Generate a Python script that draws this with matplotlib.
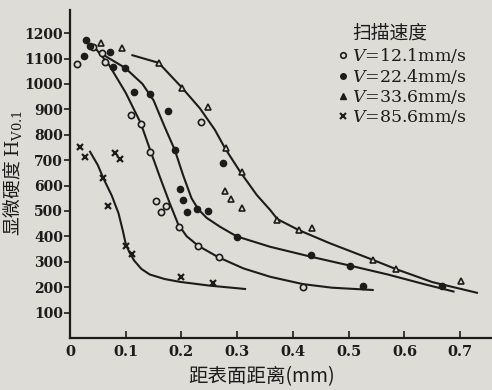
import matplotlib
matplotlib.use('Agg')
import matplotlib.pyplot as plt
from matplotlib.lines import Line2D

plt.rcParams['font.family'] = ['DejaVu Serif', 'Noto Sans CJK SC']
plt.rcParams['mathtext.fontset'] = 'dejavuserif'

bg = '#dddcd6'
ink = '#1c1c1c'

# measured points, distance from surface (mm) vs microhardness
v121_x = [0.012, 0.042, 0.057, 0.062, 0.109, 0.127, 0.143, 0.155, 0.172, 0.163, 0.196, 0.230, 0.268, 0.418, 0.235]
v121_y = [1077, 1146, 1120, 1087, 877, 841, 733, 539, 521, 497, 438, 363, 317, 202, 849]

v224_x = [0.026, 0.029, 0.035, 0.072, 0.077, 0.099, 0.115, 0.144, 0.175, 0.188, 0.274, 0.197, 0.202,
          0.209, 0.227, 0.248, 0.299, 0.432, 0.502, 0.525, 0.667]
v224_y = [1110, 1172, 1150, 1126, 1065, 1063, 967, 959, 894, 740, 690, 586, 543,
          497, 507, 500, 396, 326, 285, 206, 206]

v336_x = [0.056, 0.094, 0.159, 0.201, 0.247, 0.280, 0.308, 0.278, 0.289, 0.308, 0.372, 0.410, 0.435, 0.544, 0.585, 0.701]
v336_y = [1163, 1140, 1083, 985, 910, 749, 652, 580, 547, 510, 464, 425, 431, 307, 271, 225]

v856_x = [0.018, 0.027, 0.081, 0.090, 0.060, 0.069, 0.100, 0.111, 0.199, 0.256]
v856_y = [753, 713, 730, 703, 628, 519, 362, 329, 241, 215]

# hand drawn trend curves
c121_x = [0.042, 0.07, 0.10, 0.127, 0.143, 0.161, 0.179, 0.194, 0.209, 0.230, 0.266, 0.311, 0.359, 0.418, 0.47, 0.543]
c121_y = [1150, 1075, 965, 845, 745, 635, 530, 448, 401, 363, 318, 274, 241, 212, 198, 189]

c224_x = [0.054, 0.099, 0.13, 0.150, 0.170, 0.188, 0.203, 0.218, 0.230, 0.245, 0.269, 0.299, 0.359, 0.432,
          0.502, 0.57, 0.637, 0.688]
c224_y = [1122, 1063, 1000, 935, 830, 740, 640, 550, 507, 473, 438, 400, 359, 320,
          285, 250, 211, 183]

c336_x = [0.112, 0.159, 0.201, 0.233, 0.260, 0.278, 0.305, 0.335, 0.359, 0.372, 0.41, 0.466, 0.544, 0.585, 0.65, 0.73]
c336_y = [1113, 1083, 985, 904, 819, 747, 655, 563, 504, 468, 425, 373, 307, 271, 220, 178]

c856_x = [0.036, 0.050, 0.060, 0.075, 0.087, 0.095, 0.100, 0.106, 0.115, 0.128, 0.143, 0.170, 0.197, 0.251, 0.314]
c856_y = [733, 680, 628, 560, 491, 420, 370, 340, 305, 272, 250, 232, 221, 206, 193]

x_ticks = [0, 0.1, 0.2, 0.3, 0.4, 0.5, 0.6, 0.7]
x_tick_labels = ['0', '0.1', '0.2', '0.3', '0.4', '0.5', '0.6', '0.7']
y_ticks = [100, 200, 300, 400, 500, 600, 700, 800, 900, 1000, 1100, 1200]

legend_labels = [r'$V$=12.1mm/s', r'$V$=22.4mm/s', r'$V$=33.6mm/s', r'$V$=85.6mm/s']

fig = plt.figure(figsize=(4.92, 3.9), dpi=100, facecolor=bg)
ax = fig.add_axes([70 / 492, 52 / 390, 422 / 492, 328 / 390])
ax.set_facecolor(bg)

for cx, cy in [(c121_x, c121_y), (c224_x, c224_y), (c336_x, c336_y), (c856_x, c856_y)]:
    ax.plot(cx, cy, color=ink, lw=1.5, solid_joinstyle='round')

ax.plot(v121_x, v121_y, 'o', ms=4.5, mfc=bg, mec=ink, mew=1.2)
ax.plot(v224_x, v224_y, 'o', ms=4.5, color=ink)
ax.plot(v336_x, v336_y, '^', ms=5, mfc=bg, mec=ink, mew=1.2)
ax.plot(v856_x, v856_y, 'x', ms=4.5, color=ink, mew=1.6)

ax.set_xlim(0, 0.757)
ax.set_ylim(0, 1291)
ax.set_xticks(x_ticks)
ax.set_xticklabels(x_tick_labels, fontweight='bold')
ax.set_yticks(y_ticks)
ax.set_yticklabels([str(v) for v in y_ticks], fontweight='bold')
ax.tick_params(axis='x', direction='in', length=5, width=1.2, pad=5, labelsize=10.5, colors=ink)
ax.tick_params(axis='y', direction='out', length=4, width=1.2, pad=1, labelsize=10, colors=ink)
for s in ['top', 'right']:
    ax.spines[s].set_visible(False)
for s in ['left', 'bottom']:
    ax.spines[s].set_linewidth(1.6)
    ax.spines[s].set_color(ink)

fig.text(13 / 492, 1 - 173 / 390, '显微硬度 $\\mathrm{H_{V0.1}}$', rotation=90, ha='center', va='center',
         fontsize=13.5, color=ink, family=['Noto Sans CJK SC', 'DejaVu Serif'])
fig.text(262 / 492, 1 - 377 / 390, '距表面距离(mm)', ha='center', va='center',
         fontsize=14, color=ink, family=['Noto Sans CJK SC', 'DejaVu Serif'])

# legend title written separately so the gap to the entries can be set
fig.text(390 / 492, 1 - 33 / 390, '扫描速度', ha='center', va='center',
         fontsize=13.5, color=ink, family=['Noto Sans CJK SC'])

handles = [
    Line2D([], [], marker='o', ls='none', ms=4, mfc=bg, mec=ink, mew=1.2),
    Line2D([], [], marker='o', ls='none', ms=4, color=ink),
    Line2D([], [], marker='^', ls='none', ms=4.5, color=ink),
    Line2D([], [], marker='x', ls='none', ms=4, color=ink, mew=1.5),
]
leg = ax.legend(handles, legend_labels, loc='upper left',
                bbox_to_anchor=(338 / 492, 1 - 46 / 390), bbox_transform=fig.transFigure,
                frameon=False, fontsize=12.5, handlelength=0.6, handletextpad=0.2,
                labelspacing=0.12, borderpad=0, borderaxespad=0)
for t in leg.get_texts():
    t.set_color(ink)

fig.savefig('out.png', dpi=100, facecolor=bg)
